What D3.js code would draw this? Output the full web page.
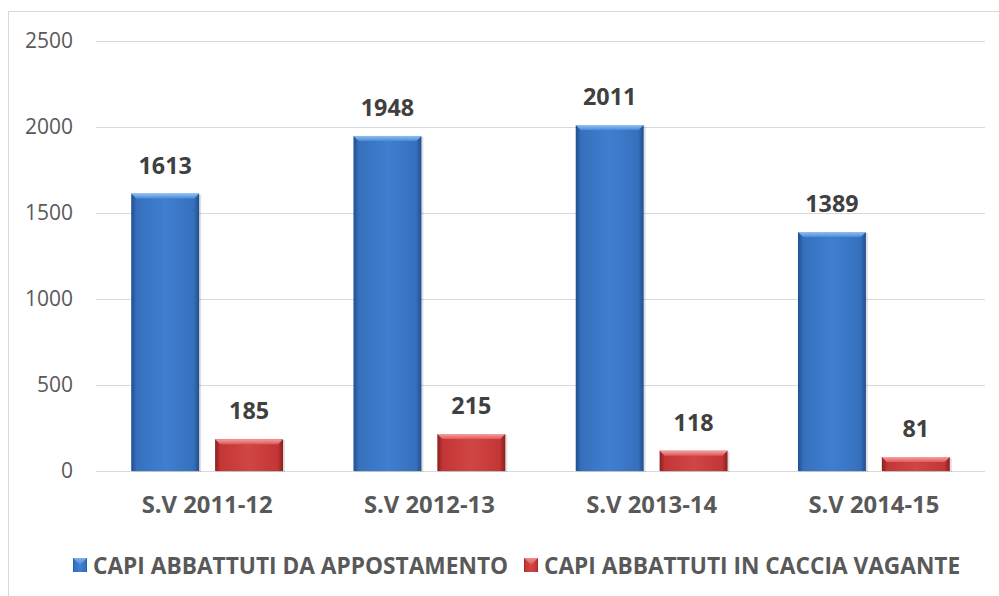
<!DOCTYPE html>
<html>
<head>
<meta charset="utf-8">
<script src="https://cdn.jsdelivr.net/npm/d3@7"></script>
<style>
  html, body { margin: 0; padding: 0; background: #fff; }
  svg { display: block; }
</style>
</head>
<body>
<svg id="chart" width="999" height="596"></svg>
<script>
// Hunting seasons and harvested heads per hunting method
const categories = ["S.V 2011-12", "S.V 2012-13", "S.V 2013-14", "S.V 2014-15"];
const seriesNames = ["CAPI ABBATTUTI DA APPOSTAMENTO", "CAPI ABBATTUTI IN CACCIA VAGANTE"];
const appostamento = [1613, 1948, 2011, 1389];
const vagante = [185, 215, 118, 81];
const yTicks = [0, 500, 1000, 1500, 2000, 2500];

const svg = d3.select("#chart");
const W = 999, H = 596;
const margin = { left: 96, right: 14, top: 41, bottom: 125 };
const font = "'Open Sans', 'Noto Sans', sans-serif";

// Chart area frame
svg.append("rect")
  .attr("x", 8.5).attr("y", 11.5)
  .attr("width", W).attr("height", H)
  .attr("fill", "#fff").attr("stroke", "#d9d9d9").attr("stroke-width", 1);

const x0 = d3.scaleBand().domain(categories)
  .range([margin.left, W - margin.right]).paddingInner(0).paddingOuter(0);
const x1 = d3.scaleBand().domain([0, 1])
  .range([0, x0.bandwidth()]).paddingInner(0.19).paddingOuter(0.42);
const y = d3.scaleLinear().domain([0, 2500]).range([H - margin.bottom, margin.top]);

// Gradients for bevelled bars
const defs = svg.append("defs");
function bevel(id, edge, mid, light) {
  const g = defs.append("linearGradient").attr("id", id)
    .attr("x1", "0").attr("x2", "1").attr("y1", "0").attr("y2", "0");
  g.append("stop").attr("offset", "0").attr("stop-color", edge);
  g.append("stop").attr("offset", "0.08").attr("stop-color", mid);
  g.append("stop").attr("offset", "0.5").attr("stop-color", light);
  g.append("stop").attr("offset", "0.92").attr("stop-color", mid);
  g.append("stop").attr("offset", "1").attr("stop-color", edge);
}
bevel("gBlue", "#1f4f8f", "#3670bd", "#3f7fd0");
bevel("gRed", "#8a1f1f", "#c43636", "#d04545");
function topGrad(id, c1, c2) {
  const g = defs.append("linearGradient").attr("id", id)
    .attr("x1", "0").attr("x2", "0").attr("y1", "0").attr("y2", "1");
  g.append("stop").attr("offset", "0").attr("stop-color", c1);
  g.append("stop").attr("offset", "1").attr("stop-color", c2);
}
topGrad("tBlue", "#8fc0f5", "#4a8ad8");
topGrad("tRed", "#f7a0a0", "#dd5a5a");

// Gridlines
svg.append("g").selectAll("line").data(yTicks).join("line")
  .attr("x1", margin.left).attr("x2", W - margin.right)
  .attr("y1", d => Math.round(y(d)) + 0.5).attr("y2", d => Math.round(y(d)) + 0.5)
  .attr("stroke", "#d9d9d9").attr("stroke-width", 1);

// Y axis labels
const yAxis = d3.axisLeft(y).tickValues(yTicks).tickFormat(d3.format("d")).tickSize(0).tickPadding(0);
const ya = svg.append("g").attr("transform", `translate(${73},0)`).call(yAxis);
ya.select(".domain").remove();
ya.selectAll("text")
  .attr("font-family", font).attr("font-size", 21).attr("fill", "#595959");

// X axis labels
const xAxis = d3.axisBottom(x0).tickSize(0).tickPadding(0);
const xa = svg.append("g").attr("transform", `translate(0,${y(0) + 25})`).call(xAxis);
xa.select(".domain").remove();
xa.selectAll("text")
  .attr("font-family", font).attr("font-size", 23.8).attr("font-weight", "bold")
  .attr("fill", "#595959");

const series = [
  { values: appostamento, fill: "url(#gBlue)", top: "url(#tBlue)" },
  { values: vagante, fill: "url(#gRed)", top: "url(#tRed)" }
];

const bevelH = 5;
series.forEach((s, si) => {
  const g = svg.append("g");
  const data = categories.map((c, i) => ({ c, v: s.values[i] }));
  const bx = d => x0(d.c) + x1(si);
  const bw = x1.bandwidth();
  // shadow
  g.selectAll("rect.shadow").data(data).join("rect").attr("class", "shadow")
    .attr("x", d => bx(d) + 1).attr("y", d => y(d.v) + 1)
    .attr("width", bw + 1).attr("height", d => y(0) - y(d.v))
    .attr("fill", "#000").attr("opacity", 0.12);
  g.selectAll("rect.bar").data(data).join("rect").attr("class", "bar")
    .attr("x", bx).attr("y", d => y(d.v))
    .attr("width", bw).attr("height", d => y(0) - y(d.v))
    .attr("fill", s.fill);
  // top bevel
  g.selectAll("path.top").data(data).join("path").attr("class", "top")
    .attr("d", d => {
      const x = bx(d), t = y(d.v);
      return `M${x},${t} L${x + bw},${t} L${x + bw - bevelH},${t + bevelH} L${x + bevelH},${t + bevelH} Z`;
    })
    .attr("fill", s.top);
  // value labels
  g.selectAll("text").data(data).join("text")
    .attr("x", d => bx(d) + bw / 2).attr("y", d => y(d.v) - 20)
    .attr("text-anchor", "middle")
    .attr("font-family", font).attr("font-size", 23.3).attr("font-weight", "bold")
    .attr("fill", "#404040")
    .text(d => d.v);
});

// Legend
const legendY = 565;
const legend = svg.append("g");
const items = [
  { name: seriesNames[0], fill: "url(#gBlue)", top: "url(#tBlue)", x: 73 },
  { name: seriesNames[1], fill: "url(#gRed)", top: "url(#tRed)", x: 524 }
];
items.forEach(it => {
  legend.append("rect").attr("x", it.x).attr("y", legendY - 7)
    .attr("width", 14).attr("height", 14).attr("fill", it.fill);
  legend.append("path")
    .attr("d", `M${it.x},${legendY - 7} L${it.x + 14},${legendY - 7} L${it.x + 7},${legendY} Z`)
    .attr("fill", it.top).attr("opacity", 0.8);
  legend.append("text").attr("x", it.x + 20).attr("y", legendY)
    .attr("dominant-baseline", "central")
    .attr("font-family", font).attr("font-size", 22.7).attr("font-weight", "bold")
    .attr("fill", "#595959").text(it.name);
});
</script>
</body>
</html>
